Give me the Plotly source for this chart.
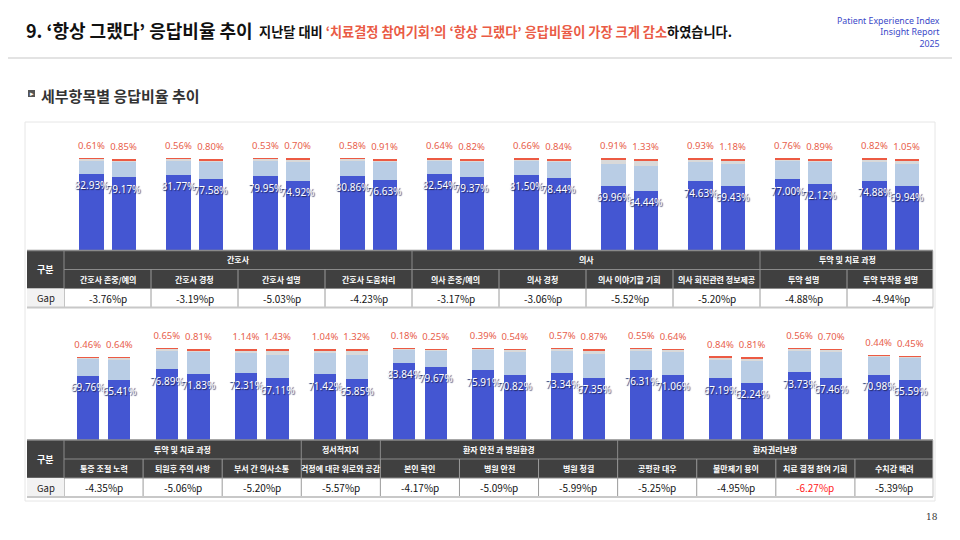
import plotly.graph_objects as go

# page body keeps an 8px margin, so the figure is drawn a bit smaller and shifted
W, H, OFF = 952, 532, 8

# top block: 간호사 / 의사 / 투약
top_items = ['간호사 존중/예의', '간호사 경청', '간호사 설명', '간호사 도움처리',
             '의사 존중/예의', '의사 경청', '의사 이야기할 기회', '의사 회진관련 정보제공',
             '투약 설명', '투약 부작용 설명']
top_groups = [('간호사', 4), ('의사', 4), ('투약 및 치료 과정', 2)]
top_prev_blue = [82.93, 81.77, 79.95, 80.86, 82.54, 81.50, 69.96, 74.63, 77.00, 74.88]
top_curr_blue = [79.17, 77.58, 74.92, 76.63, 79.37, 78.44, 64.44, 69.43, 72.12, 69.94]
top_prev_lb = [14.2, 15.4, 17.2, 16.3, 14.5, 15.8, 23.6, 21.1, 19.7, 20.8]
top_curr_lb = [17.8, 19.4, 20.9, 19.0, 17.6, 18.2, 26.9, 24.1, 23.5, 23.7]
top_prev_gray = [2.3, 2.3, 2.3, 2.3, 2.3, 2.0, 5.5, 3.3, 2.5, 3.5]
top_curr_gray = [1.2, 1.2, 3.5, 2.5, 1.2, 1.5, 6.3, 4.3, 2.5, 4.3]
top_prev_red = [0.61, 0.56, 0.53, 0.58, 0.64, 0.66, 0.91, 0.93, 0.76, 0.82]
top_curr_red = [0.85, 0.80, 0.70, 0.91, 0.82, 0.84, 1.33, 1.18, 0.89, 1.05]
top_gap = ['-3.76%p', '-3.19%p', '-5.03%p', '-4.23%p', '-3.17%p',
           '-3.06%p', '-5.52%p', '-5.20%p', '-4.88%p', '-4.94%p']

# bottom block
bot_items = ['통증 조절 노력', '퇴원후 주의 사항', '부서 간 의사소통', '걱정에 대한 위로와 공감',
             '본인 확인', '병원 안전', '병원 청결', '공평한 대우', '불만제기 용이',
             '치료 결정 참여 기회', '수치감 배려']
bot_groups = [('투약 및 치료 과정', 3), ('정서적지지', 1), ('환자 안전 과 병원환경', 3), ('환자권리보장', 4)]
bot_prev_blue = [69.76, 76.89, 72.31, 71.42, 83.84, 75.91, 73.34, 76.31, 67.19, 73.73, 70.98]
bot_curr_blue = [65.41, 71.83, 67.11, 65.85, 79.67, 70.82, 67.35, 71.06, 62.24, 67.46, 65.59]
bot_prev_lb = [18.8, 20.3, 22.3, 23.2, 15.0, 22.4, 23.1, 21.1, 19.9, 23.7, 19.7]
bot_curr_lb = [22.2, 23.9, 25.5, 26.8, 18.3, 25.1, 26.3, 24.8, 23.9, 28.3, 24.0]
bot_prev_gray = [1.2, 2.2, 3.3, 3.3, 1.0, 1.3, 3.0, 2.0, 3.1, 2.0, 1.3]
bot_curr_gray = [2.0, 2.5, 5.0, 5.0, 0.8, 2.5, 4.5, 2.5, 3.3, 2.5, 1.3]
bot_prev_red = [0.46, 0.65, 1.14, 1.04, 0.18, 0.39, 0.57, 0.55, 0.84, 0.56, 0.44]
bot_curr_red = [0.64, 0.81, 1.43, 1.32, 0.25, 0.54, 0.87, 0.64, 0.81, 0.70, 0.45]
bot_gap = ['-4.35%p', '-5.06%p', '-5.20%p', '-5.57%p', '-4.17%p', '-5.09%p',
           '-5.99%p', '-5.25%p', '-4.95%p', '-6.27%p', '-5.39%p']
bot_gap_hi = 9   # 가장 크게 감소한 항목

BLUE, LBLUE, GRAY, RED = '#4456d2', '#b9cde5', '#d9d9d9', '#ec5a43'
DARK = '#404040'
KR = 'Noto Sans CJK KR'


def px(x):
    return (x - OFF) / W


def py(y):
    return 1 - (y - OFF) / H


fig = go.Figure()


def add_block(xa, ya, prev, curr, off, bw):
    n = len(prev[0])
    xs = [i - off for i in range(n)] + [i + off for i in range(n)]
    cols = [BLUE, LBLUE, GRAY, RED]
    for k in range(4):
        fig.add_trace(go.Bar(x=xs, y=prev[k] + curr[k], width=bw,
                             marker=dict(color=cols[k], line=dict(width=0)),
                             xaxis=xa, yaxis=ya, showlegend=False, hoverinfo='skip'))
    blue = prev[0] + curr[0]
    tot = [sum(v) for v in zip(*[prev[k] + curr[k] for k in range(4)])]
    reds = prev[3] + curr[3]
    fig.add_trace(go.Scatter(x=xs, y=[b - 14 for b in blue], mode='text',
                             text=['%.2f%%' % b for b in blue],
                             textfont=dict(family='Noto Sans', size=10, color='white',
                                           shadow='1px 1px 1px #22265a'),
                             xaxis=xa, yaxis=ya, cliponaxis=False,
                             showlegend=False, hoverinfo='skip'))
    fig.add_trace(go.Scatter(x=xs, y=[t + 12 for t in tot], mode='text',
                             text=['%.2f%%' % r for r in reds],
                             textfont=dict(family='Noto Sans', size=9.5, color='#e8604c'),
                             xaxis=xa, yaxis=ya, cliponaxis=False,
                             showlegend=False, hoverinfo='skip'))


add_block('x', 'y',
          [top_prev_blue, top_prev_lb, top_prev_gray, top_prev_red],
          [top_curr_blue, top_curr_lb, top_curr_gray, top_curr_red], 0.184, 0.276)
add_block('x2', 'y2',
          [bot_prev_blue, bot_prev_lb, bot_prev_gray, bot_prev_red],
          [bot_curr_blue, bot_curr_lb, bot_curr_gray, bot_curr_red], 0.2, 0.28)

shapes = []
annos = []


def rect(x0, y0, x1, y1, fill=None, line=None, lw=1, layer='above'):
    shapes.append(dict(type='rect', xref='paper', yref='paper',
                       x0=px(x0), x1=px(x1), y0=py(y1), y1=py(y0),
                       fillcolor=fill or 'rgba(0,0,0,0)',
                       line=dict(color=line or 'rgba(0,0,0,0)', width=lw if line else 0),
                       layer=layer))


def hline(x0, x1, y, color, lw=1):
    shapes.append(dict(type='line', xref='paper', yref='paper', x0=px(x0), x1=px(x1),
                       y0=py(y), y1=py(y), line=dict(color=color, width=lw)))


def vline(x, y0, y1, color, lw=1):
    shapes.append(dict(type='line', xref='paper', yref='paper', x0=px(x), x1=px(x),
                       y0=py(y0), y1=py(y1), line=dict(color=color, width=lw)))


def text(x, y, s, size, color, bold=False, xanchor='center', family=KR, align='center'):
    annos.append(dict(x=px(x), y=py(y), xref='paper', yref='paper', showarrow=False,
                      text='<b>%s</b>' % s if bold else s, xanchor=xanchor, yanchor='middle',
                      align=align, borderpad=0,
                      font=dict(family=family, size=size, color=color)))


def table(top, items, groups, gaps, hi=None):
    x0, x1, left = 27, 933, 64
    cw = (934 - left) / len(items)
    r1, r2, r3, r4 = top, top + 19, top + 38, top + 57
    rect(x0, r1, x1, r3, fill=DARK)
    hline(x0, x1, r1, '#8a8a8a', 1.5)
    hline(left, x1, r2, '#8a8a8a')
    hline(x0, x1, r3, '#8a8a8a')
    vline(left, r1, r4, '#8a8a8a')
    text((x0 + left) / 2, (r1 + r3) / 2, '구분', 9, 'white', True)
    s = 0
    for name, n in groups:
        text(left + (s + n / 2) * cw, (r1 + r2) / 2, name, 8, 'white', True)
        s += n
        if s < len(items):
            vline(left + s * cw, r1, r2, '#8a8a8a')
    rect(x0, r3, left, r4, fill='#f2f2f2')
    for i, it in enumerate(items):
        cx = left + (i + 0.5) * cw
        text(cx, (r2 + r3) / 2, it, 8, 'white', True)
        text(cx, (r3 + r4) / 2, gaps[i], 10, '#ff1a1a' if i == hi else '#111111')
        if i > 0:
            vline(left + i * cw, r2, r4, '#9a9a9a')
    text((x0 + left) / 2, (r3 + r4) / 2, 'Gap', 9.5, '#222222')
    hline(x0, x1, r4, '#c8c8c8', 2)
    vline(x1, r1, r4, '#c8c8c8')


# card behind the charts
rect(25, 122, 935, 501, line='#e6e6e6', lw=1, layer='below')
table(250.5, top_items, top_groups, top_gap)
table(440, bot_items, bot_groups, bot_gap, bot_gap_hi)

# header
hline(OFF, 960, 58, '#c8c8c8', 1.2)
text(25, 30, '9. ‘항상 그랬다’ 응답비율 추이', 18, '#111111', True, 'left')
text(258, 31, '지난달 대비 <span style="color:#ea5b45">‘치료결정 참여기회’의 ‘항상 그랬다’ '
     '응답비율이 가장 크게 감소</span>하였습니다.', 13.2, '#111111', True, 'left')
text(941, 32, 'Patient Experience Index<br>Insight Report<br>2025', 8.8, '#3a48c8',
     False, 'right', 'Noto Sans', 'right')
rect(28, 90, 35, 97, fill='#555555')
text(31.6, 93.4, '▸', 7, 'white', False)
text(40, 95, '세부항목별 응답비율 추이', 15, '#333333', True, 'left')
text(939, 517, '18', 9, '#333333', False, 'right', 'DejaVu Serif')

ax = dict(visible=False, showgrid=False, zeroline=False, fixedrange=True)
fig.update_layout(
    width=W, height=H, margin=dict(l=0, r=0, t=0, b=0),
    paper_bgcolor='white', plot_bgcolor='rgba(0,0,0,0)',
    barmode='stack', showlegend=False,
    xaxis=dict(ax, domain=[px(64), px(934)], range=[-0.5, 9.5]),
    yaxis=dict(ax, domain=[py(250), py(250 - 120 * 0.92)], range=[0, 120]),
    xaxis2=dict(ax, domain=[px(64), px(934)], range=[-0.5, 10.5], anchor='y2'),
    yaxis2=dict(ax, domain=[py(440), py(440 - 120 * 0.92)], range=[0, 120], anchor='x2'),
    shapes=shapes, annotations=annos,
)

fig.write_html('out.html')
